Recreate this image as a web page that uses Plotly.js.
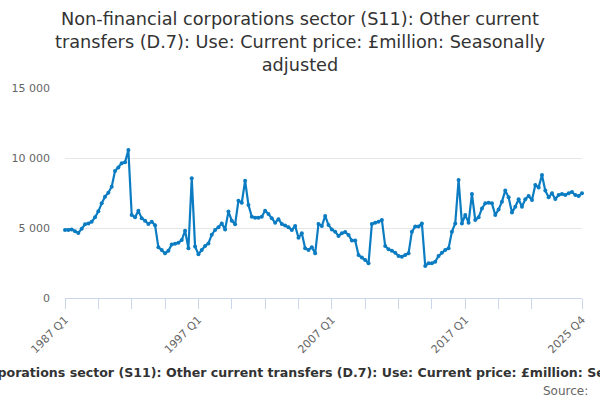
<!DOCTYPE html>
<html>
<head>
<meta charset="utf-8">
<script src="https://cdn.plot.ly/plotly-3.0.1.min.js"></script>
<style>
  html, body { margin: 0; padding: 0; background: #ffffff; }
  #grafico { width: 600px; height: 400px; }
</style>
</head>
<body>
<div id="grafico"></div>
<script>
"use strict";

// Trimestres de 1987 Q1 a 2025 Q4
const anioInicio = 1987;
const anioFin = 2025;
const categorias = [];
for (let a = anioInicio; a <= anioFin; a++) {
    for (let q = 1; q <= 4; q++) {
        categorias.push(`${a} Q${q}`);
    }
}

// Valores (£million), por tramos
const valores1987a1996 = [
    4860, 4860, 4900, 4770, 4640, 4950, 5260, 5330, 5450, 5760,
    6190, 6760, 7240, 7520, 7950, 9070, 9330, 9620, 9690, 10570,
    5930, 5760, 6240, 5690, 5520, 5290, 5450, 5190, 3620, 3430,
    3190, 3380, 3830, 3880, 3950, 4140, 4810, 3550, 8550, 3670
];
const valores1997a2006 = [
    3130, 3430, 3710, 3900, 4520, 4860, 5050, 5330, 4900, 6170,
    5520, 5260, 6950, 6810, 8380, 6640, 5810, 5740, 5740, 5810,
    6240, 6000, 5690, 5380, 5620, 5290, 5170, 5050, 4860, 5140,
    4310, 4620, 3550, 3430, 3620, 3190, 5290, 5140, 5860, 5210
];
const valores2007a2016 = [
    4900, 4740, 4430, 4620, 4710, 4500, 4100, 4100, 3070, 2900,
    2710, 2480, 5290, 5380, 5450, 5570, 3710, 3480, 3380, 3240,
    3000, 2950, 3070, 3190, 4740, 5100, 5100, 5330, 2290, 2480,
    2480, 2590, 3000, 3240, 3430, 3550, 4740, 5330, 8430, 5330
];
const valores2017a2025 = [
    5930, 5380, 7430, 5570, 5760, 6400, 6760, 6810, 6760, 5930,
    6330, 6880, 7670, 7190, 6100, 6520, 7050, 6520, 7050, 7290,
    7000, 8070, 7900, 8790, 7670, 7190, 7480, 7070, 7360, 7430,
    7360, 7480, 7570, 7360, 7290, 7480
];
const valores = [...valores1987a1996, ...valores1997a2006, ...valores2007a2016, ...valores2017a2025];

// Marcas del eje X: una cada 10 trimestres, etiquetas cada 40 y la última
const indicesMarcas = [0, 10, 20, 30, 40, 50, 60, 70, 80, 90, 100, 110, 120, 130, 140, 155];
const indicesEtiquetas = [0, 40, 80, 120, 155];
const tickvals = indicesMarcas.map(i => categorias[i]);
const ticktext = indicesMarcas.map(i => indicesEtiquetas.includes(i) ? categorias[i] : '');

const titulo = 'Non-financial corporations sector (S11): Other current transfers (D.7): Use: Current price: £million: Seasonally adjusted';

const traza = {
    x: categorias,
    y: valores,
    type: 'scatter',
    mode: 'lines+markers',
    line: { color: '#0b7cc2', width: 2.2 },
    marker: { color: '#0b7cc2', size: 4 },
    cliponaxis: false,
    hoverinfo: 'skip'
};

const layout = {
    width: 600,
    height: 400,
    font: { family: 'DejaVu Sans, sans-serif', color: '#333333' },
    separators: '. ',
    title: {
        text: 'Non-financial corporations sector (S11): Other current<br>transfers (D.7): Use: Current price: £million: Seasonally<br>adjusted',
        font: { size: 17.7, color: '#333333' },
        x: 0.5,
        xanchor: 'center',
        yref: 'container',
        y: 0.937,
        yanchor: 'top'
    },
    margin: { l: 65, r: 18, t: 88, b: 102 },
    showlegend: false,
    xaxis: {
        type: 'category',
        range: [0, 155],
        tickmode: 'array',
        tickvals: tickvals,
        ticktext: ticktext,
        tickangle: -45,
        ticks: 'outside',
        ticklen: 10,
        tickcolor: '#ccd6eb',
        tickfont: { size: 11, color: '#666666' },
        showline: true,
        linecolor: '#ccd6eb',
        linewidth: 1,
        showgrid: false,
        zeroline: false,
        automargin: false
    },
    yaxis: {
        range: [0, 15000],
        tickvals: [0, 5000, 10000, 15000],
        tickformat: ',d',
        tickfont: { size: 11, color: '#666666' },
        ticklabelstandoff: 14,
        showgrid: true,
        gridcolor: '#e6e6e6',
        zeroline: false,
        showline: false,
        automargin: false
    },
    annotations: [
        {
            // Título del eje X, centrado en la página como en el original
            text: '<b>' + titulo + '</b>',
            xref: 'paper',
            yref: 'paper',
            x: 0.462,
            y: -0.357,
            xanchor: 'center',
            yanchor: 'middle',
            showarrow: false,
            font: { size: 12.6, color: '#333333' }
        },
        {
            text: 'Source: ',
            xref: 'paper',
            yref: 'paper',
            x: 1.023,
            y: -0.443,
            xanchor: 'right',
            yanchor: 'middle',
            showarrow: false,
            font: { size: 12, color: '#666666' }
        }
    ],
    paper_bgcolor: '#ffffff',
    plot_bgcolor: '#ffffff'
};

const config = {
    displayModeBar: false,
    staticPlot: true
};

Plotly.newPlot('grafico', [traza], layout, config);
</script>
</body>
</html>
